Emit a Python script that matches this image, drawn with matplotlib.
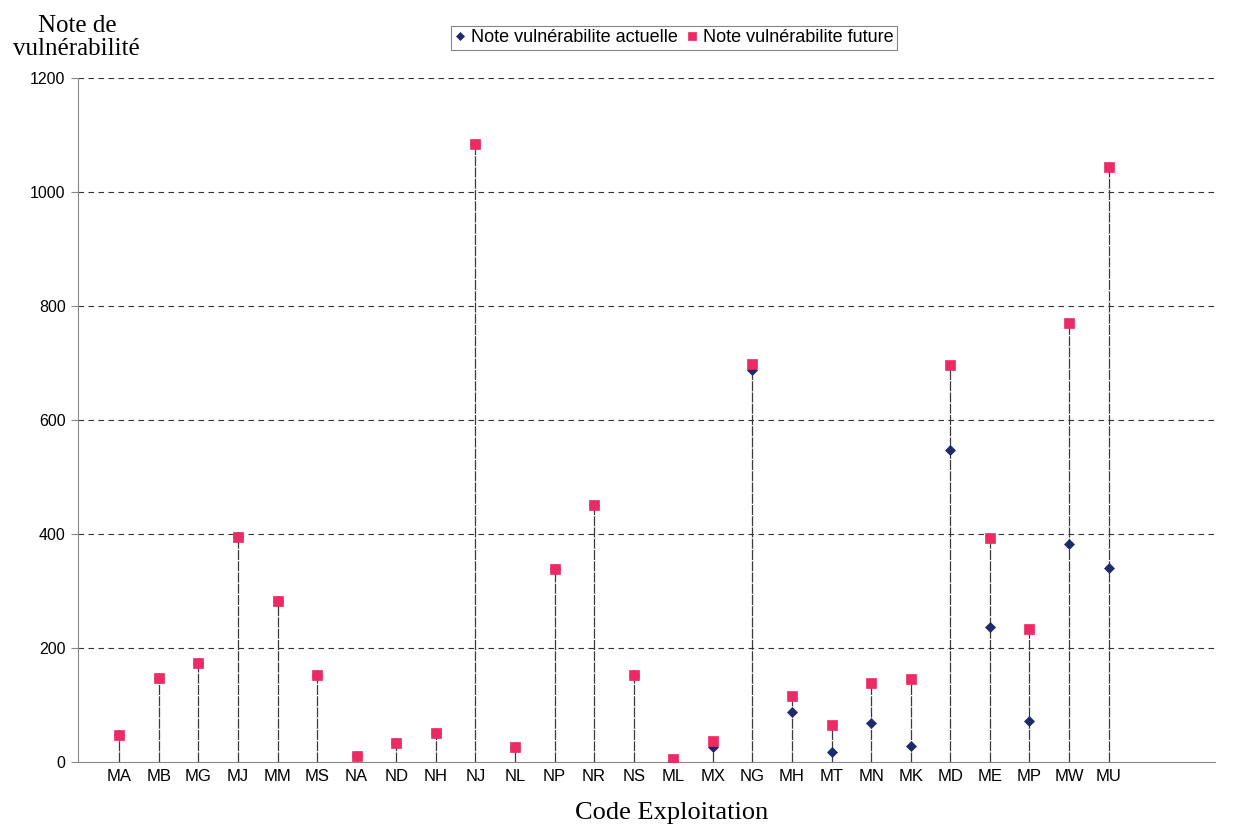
import numpy as np
import matplotlib
matplotlib.use('Agg')
from matplotlib import pyplot as plt

# exploitation codes and vulnerability scores
codes = ['MA', 'MB', 'MG', 'MJ', 'MM', 'MS', 'NA', 'ND', 'NH', 'NJ', 'NL', 'NP', 'NR',
         'NS', 'ML', 'MX', 'NG', 'MH', 'MT', 'MN', 'MK', 'MD', 'ME', 'MP', 'MW', 'MU']
note_future = [48, 147, 173, 394, 282, 153, 10, 33, 50, 1084, 27, 339, 451,
               152, 6, 37, 698, 115, 65, 139, 145, 697, 393, 234, 770, 1044]
note_actuelle = [48, 147, 173, 394, 282, 153, 10, 33, 50, 1084, 27, 339, 451,
                 152, 2, 26, 688, 88, 18, 68, 28, 548, 237, 72, 383, 340]

x = np.arange(len(codes))

fig = plt.figure(figsize=(12.39, 8.26), dpi=100)
ax = fig.add_axes([0.063, 0.0775, 0.918, 0.828])

# grid lines
for yv in [200, 400, 600, 800, 1000, 1200]:
    ax.axhline(yv, color='#333333', lw=0.8, ls=(0, (5, 4)), zorder=1)

# drop lines from the axis to the highest point of each code
top = np.maximum(note_future, note_actuelle)
ax.vlines(x, 0, top, color='#3a3a3a', lw=0.9, ls=(0, (8, 1)), zorder=2)

ax.plot(x, note_actuelle, ls='none', marker='D', ms=4.8, mew=0.5, color='#1F2A6B',
        zorder=3, label='Note vulnérabilite actuelle')
ax.plot(x, note_future, ls='none', marker='s', ms=7.5, mew=0.5, color='#EC2A64',
        zorder=4, label='Note vulnérabilite future')

ax.set_xlim(-1.04, 27.7)
ax.set_ylim(0, 1200)
ax.set_yticks([0, 200, 400, 600, 800, 1000, 1200])
ax.set_xticks(x)
ax.set_xticklabels(codes, fontsize=12, family='Liberation Sans')
for lab in ax.get_yticklabels():
    lab.set_fontsize(11.5)
    lab.set_family('Liberation Sans')
ax.tick_params(axis='x', length=0, pad=5)
ax.tick_params(axis='y', length=5, color='#888888', pad=4)

for side in ['top', 'right']:
    ax.spines[side].set_visible(False)
ax.spines['left'].set_color('#888888')
ax.spines['bottom'].set_color('#888888')

fig.text(0.062, 0.955, 'Note de\nvulnérabilité', ha='center', va='center',
         fontsize=18, family='Liberation Serif', linespacing=1.05)
fig.text(0.542, 0.016, 'Code Exploitation', ha='center', va='center',
         fontsize=19, family='Liberation Serif')

leg = fig.legend(loc='center', bbox_to_anchor=(0.544, 0.954), ncol=2,
                 frameon=True, fancybox=False, edgecolor='#666666',
                 prop={'family': 'Liberation Sans', 'size': 13},
                 handlelength=0.6, handletextpad=0.3, columnspacing=0.5,
                 borderpad=0.2, markerscale=0.8)
leg.get_frame().set_linewidth(0.8)

fig.savefig('out.png', dpi=100)
